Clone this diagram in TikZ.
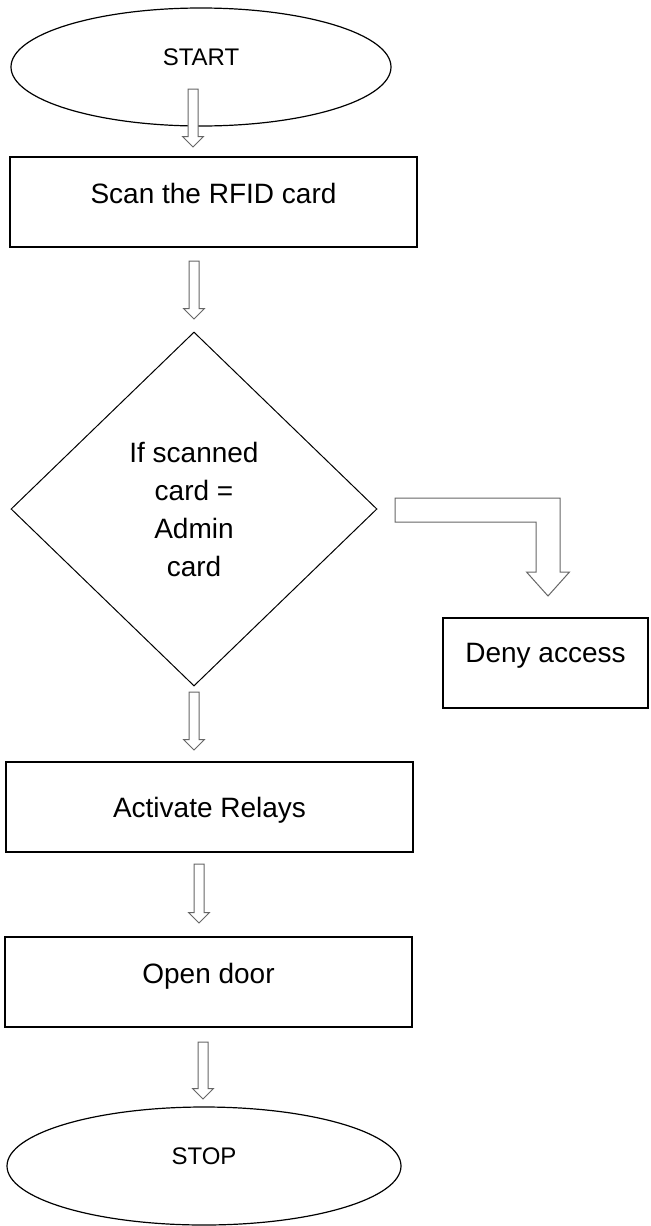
\documentclass[tikz,border=0pt]{standalone}
\usepackage{fontspec}
\setmainfont{Liberation Sans}
\usepackage{tikz}
\usetikzlibrary{shapes.geometric,calc}

% hollow block arrow pointing down, from tail (#1) to tip (#2)
\newcommand{\blockarrow}[2]{%
  \draw[flow] ($(#1)+(-5,0)$) -- ($(#2)+(-5,-10.5)$) -- ($(#2)+(-10.5,-10.5)$) -- (#2)
    -- ($(#2)+(10.5,-10.5)$) -- ($(#2)+(5,-10.5)$) -- ($(#1)+(5,0)$) -- cycle;}

\begin{document}
\begin{tikzpicture}
		[x=0.5pt,y=-0.5pt,
		terminal/.style={ellipse,draw,line width=0.6pt,inner sep=0pt,minimum width=190pt,minimum height=59pt,font=\fontsize{12}{14}\selectfont,text height=8.6pt},
		process/.style={rectangle,draw,line width=0.6pt,minimum height=45pt,font=\fontsize{14}{19}\selectfont,text height=10pt},
		decision/.style={diamond,draw,line width=0.5pt,inner sep=0pt,minimum width=183pt,minimum height=177pt,align=center,font=\fontsize{14}{19}\selectfont},
		flow/.style={draw=black!60,fill=white,line width=0.5pt,line join=miter},
		textlift/.style={text depth=#1}]
		\useasboundingbox (0,0) rectangle (650,1226);

		\node [terminal,textlift=10pt] (start) at (201,67) {START};
		\node [process,minimum width=203.5pt,textlift=9pt] (scan) at (213.5,202) {Scan the RFID card};
		\node [decision] (check) at (194,509) {If scanned\\card =\\Admin\\card};
		\node [process,minimum width=102.5pt,textlift=11pt] (deny) at (545.5,663) {Deny access};
		\node [process,minimum width=203.5pt,textlift=0pt] (relays) at (209.5,807) {Activate Relays};
		\node [process,minimum width=203.5pt,textlift=9pt] (door) at (208.5,982) {Open door};
		\node [terminal,minimum width=197pt,textlift=10pt] (stop) at (204,1166) {STOP};

		% arrow ends
		\coordinate (tail1) at (193,89);   \coordinate (tip1) at (193,147);
		\coordinate (tail2) at (194,261);  \coordinate (tip2) at (194,319);
		\coordinate (tail3) at (194,692);  \coordinate (tip3) at (194,750);
		\coordinate (tail4) at (199,864);  \coordinate (tip4) at (199,923);
		\coordinate (tail5) at (203,1042); \coordinate (tip5) at (203,1099);
		\coordinate (tailno) at (395,510); \coordinate (tipno) at (548,596);

		\blockarrow{tail1}{tip1}
		\blockarrow{tail2}{tip2}
		\blockarrow{tail3}{tip3}
		\blockarrow{tail4}{tip4}
		\blockarrow{tail5}{tip5}

		\draw [flow] ($(tailno)+(0,-12)$) -- ($(tailno -| tipno)+(12,-12)$) -- ($(tipno)+(12,-24)$)
			-- ($(tipno)+(21.5,-24)$) -- (tipno) -- ($(tipno)+(-21.5,-24)$) -- ($(tipno)+(-12,-24)$)
			-- ($(tailno -| tipno)+(-12,12)$) -- ($(tailno)+(0,12)$) -- cycle;

	\end{tikzpicture}
\end{document}
